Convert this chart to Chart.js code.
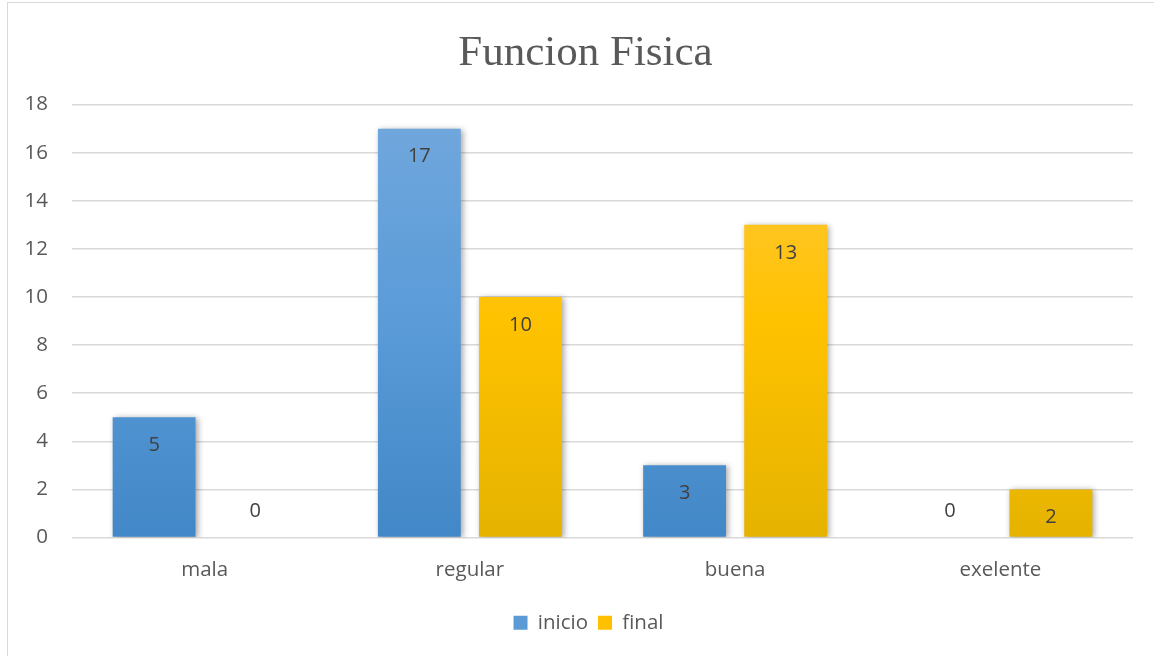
<!DOCTYPE html>
<html><head><meta charset="utf-8">
<script src="https://cdn.jsdelivr.net/npm/chart.js@4/dist/chart.umd.min.js"></script>
<style>
html,body{margin:0;padding:0;background:#fff;}
#wrap{position:absolute;left:0;top:0;width:1154px;height:656px;}
#frame{position:absolute;left:7px;top:2px;width:1160px;height:670px;border:1px solid #d9d9d9;box-sizing:border-box;}
</style></head><body>
<div id="frame"></div>
<div id="wrap"><canvas id="c" width="1154" height="656"></canvas></div>
<script>
const title = "Funcion Fisica";
const categories = ["mala", "regular", "buena", "exelente"];
const seriesNames = ["inicio", "final"];
const inicio = [5, 17, 3, 0];
const final = [0, 10, 13, 2];
const yTicks = [0, 2, 4, 6, 8, 10, 12, 14, 16, 18];

const FONT = "Open Sans";
const TXT = "#595959";
const FS = 20.5;

function grad(ctx, stops) {
  const ca = ctx.chart.chartArea;
  if (!ca) return stops[1];
  const g = ctx.chart.ctx.createLinearGradient(0, ca.top, 0, ca.bottom);
  g.addColorStop(0, stops[0]); g.addColorStop(0.5, stops[1]); g.addColorStop(1, stops[2]);
  return g;
}
const blueStops = ["#72a8dd", "#5a9bd8", "#4287c7"];
const goldStops = ["#ffc846", "#ffc200", "#e5b300"];

const shadowPlugin = {
  id: "shadow",
  afterLayout(chart) {
    const t = chart.titleBlock;
    if (t) { t.left += 15; t.right += 15; }
    const l = chart.legend;
    if (l) { l.left += 18; l.right += 18; }
  },
  beforeDatasetsDraw(chart) {
    const c = chart.ctx; c.save();
    c.shadowColor = "rgba(0,0,0,0.35)"; c.shadowBlur = 6; c.shadowOffsetX = 2; c.shadowOffsetY = 1;
  },
  afterDatasetsDraw(chart) { chart.ctx.restore(); }
};
const labelPlugin = {
  id: "labels",
  afterDatasetsDraw(chart) {
    const c = chart.ctx; c.save();
    c.font = "20px " + FONT; c.fillStyle = "#404040"; c.textAlign = "center"; c.textBaseline = "middle";
    chart.data.datasets.forEach((ds, i) => {
      chart.getDatasetMeta(i).data.forEach((bar, j) => {
        const v = ds.data[j];
        const y = v > 0 ? bar.y + 28 : bar.base - 26;
        c.fillText(String(v), bar.x, y);
      });
    });
    c.restore();
  }
};

new Chart(document.getElementById("c"), {
  type: "bar",
  data: {
    labels: categories,
    datasets: [
      { label: seriesNames[0], data: inicio, backgroundColor: ctx => grad(ctx, blueStops), categoryPercentage: 0.762, barPercentage: 0.82 },
      { label: seriesNames[1], data: final, backgroundColor: ctx => grad(ctx, goldStops), categoryPercentage: 0.762, barPercentage: 0.82 }
    ]
  },
  options: {
    responsive: false, animation: false,
    layout: { padding: { left: 8, right: 21, top: 0, bottom: 13 } },
    plugins: {
      title: { display: true, text: title, color: TXT, font: { family: "Liberation Serif", size: 43, weight: "normal" }, padding: { top: 28, bottom: 25 } },
      legend: { position: "bottom", labels: { color: TXT, font: { family: FONT, size: FS }, boxWidth: 14, boxHeight: 14, padding: 10,
        generateLabels(chart) {
          return chart.data.datasets.map((ds, i) => ({ text: ds.label, fillStyle: i === 0 ? "#5b9bd5" : "#ffc000", strokeStyle: "rgba(0,0,0,0)", lineWidth: 0, datasetIndex: i, fontColor: TXT }));
        } } },
      tooltip: { enabled: false }
    },
    scales: {
      x: { grid: { display: false }, border: { display: false }, ticks: { color: TXT, font: { family: FONT, size: FS }, padding: 12 },
        afterFit(s) { s.height = 65; } },
      y: { min: 0, max: 18, afterBuildTicks(s) { s.ticks = yTicks.map(v => ({ value: v })); },
        afterFit(s) { s.width = 64; },
        grid: { color: "#d9d9d9", lineWidth: 1.5, drawTicks: false }, border: { display: false },
        ticks: { color: TXT, font: { family: FONT, size: FS }, padding: 24 } }
    }
  },
  plugins: [shadowPlugin, labelPlugin]
});
</script></body></html>
